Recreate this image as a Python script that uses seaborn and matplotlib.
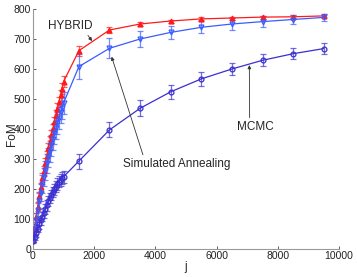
import matplotlib
matplotlib.use("Agg")
import matplotlib.pyplot as plt
import numpy as np
import pandas as pd
import seaborn as sns

# iteration counts j
j_dense = [10, 50, 100, 150, 200, 250, 300, 350, 400, 450, 500,
           550, 600, 650, 700, 750, 800, 850, 900, 950, 1000]
j_sparse = [1500, 2500, 3500, 4500, 5500, 6500, 7500, 8500, 9500]

hybrid_fom = [30, 70, 105, 140, 175, 205, 235, 260, 285, 310, 335,
              358, 380, 400, 422, 445, 468, 490, 512, 535, 558,
              661, 730, 750, 760, 767, 770, 773, 774, 777]
hybrid_err = [8, 12, 14, 15, 16, 16, 17, 17, 18, 18, 18,
              18, 18, 18, 18, 18, 18, 18, 18, 18, 18,
              17, 11, 6, 5, 5, 5, 5, 5, 5]

sa_fom = [30, 65, 98, 130, 160, 188, 215, 240, 262, 285, 305,
          325, 345, 365, 385, 402, 420, 437, 455, 470, 487,
          608, 669, 700, 722, 739, 750, 758, 765, 772]
sa_err = [10, 18, 22, 24, 26, 28, 30, 30, 32, 32, 33,
          34, 34, 35, 35, 35, 36, 36, 36, 36, 36,
          41, 33, 26, 22, 20, 19, 18, 14, 12]

mcmc_fom = [28, 40, 52, 68, 82, 95, 108, 120, 133, 145, 160,
            170, 180, 190, 199, 208, 216, 224, 230, 236, 241,
            293, 397, 469, 524, 567, 600, 629, 651, 668]
mcmc_err = [6, 10, 12, 13, 14, 15, 15, 16, 16, 17, 17,
            17, 18, 18, 18, 18, 19, 19, 19, 19, 20,
            25, 25, 26, 23, 22, 21, 20, 18, 18]

j_all = j_dense + j_sparse

series = [
    ("HYBRID", hybrid_fom, hybrid_err, "#ff1a1a", "^", True),
    ("Simulated Annealing", sa_fom, sa_err, "#3a5cff", "v", False),
    ("MCMC", mcmc_fom, mcmc_err, "#3a2fd0", "o", False),
]


def main():
    sns.set_theme(style="ticks")
    plt.rcParams["font.family"] = ["Liberation Sans", "DejaVu Sans"]

    fig = plt.figure(figsize=(3.57, 2.77), dpi=100)
    ax = fig.add_axes([0.0924, 0.1011, 0.8572, 0.8664])

    for name, fom, err, color, marker, filled in series:
        df = pd.DataFrame({"j": j_all, "FoM": fom})
        ax.errorbar(df["j"], df["FoM"], yerr=err, fmt="none",
                    ecolor=color, elinewidth=0.9, capsize=2.5,
                    capthick=0.9, alpha=0.7, zorder=2)
        sns.lineplot(data=df, x="j", y="FoM", ax=ax, color=color,
                     linewidth=0.9, marker=marker, markersize=3.5,
                     markerfacecolor=color if filled else "none",
                     markeredgecolor=color, markeredgewidth=0.9,
                     zorder=3)

    ax.set_xlim(0, 10000)
    ax.set_ylim(0, 800)
    ax.set_xticks(np.arange(0, 10001, 2000))
    ax.set_yticks(np.arange(0, 801, 100))
    ax.tick_params(direction="in", length=2.5, width=0.6, labelsize=7.5,
                   colors="#444444", pad=1.5)
    ax.tick_params(labelcolor="#222222")
    for side in ("top", "right"):
        ax.spines[side].set_visible(False)
    for side in ("left", "bottom"):
        ax.spines[side].set_color("#999999")
        ax.spines[side].set_linewidth(0.8)

    ax.set_xlabel("j", fontsize=8.5, labelpad=0)
    ax.set_ylabel("FoM", fontsize=8.5)
    ax.yaxis.set_label_coords(-0.05, 0.48)

    arrow = dict(arrowstyle="-|>", color="#333333", lw=0.6,
                 mutation_scale=5, shrinkA=0, shrinkB=0)
    ax.annotate("HYBRID", xy=(1930, 693), xytext=(1210, 743),
                fontsize=8.5, ha="center", va="center",
                arrowprops=dict(arrow, relpos=(0.85, 0.0)))
    ax.annotate("Simulated Annealing", xy=(2570, 641), xytext=(4680, 283),
                fontsize=8.5, ha="center", va="center",
                arrowprops=dict(arrow, relpos=(0.2, 1.0)))
    ax.annotate("MCMC", xy=(7070, 613), xytext=(7260, 407),
                fontsize=8.5, ha="center", va="center",
                arrowprops=dict(arrow, relpos=(0.35, 1.0)))

    fig.savefig("out.png", dpi=100)
    plt.close(fig)


if __name__ == "__main__":
    main()
